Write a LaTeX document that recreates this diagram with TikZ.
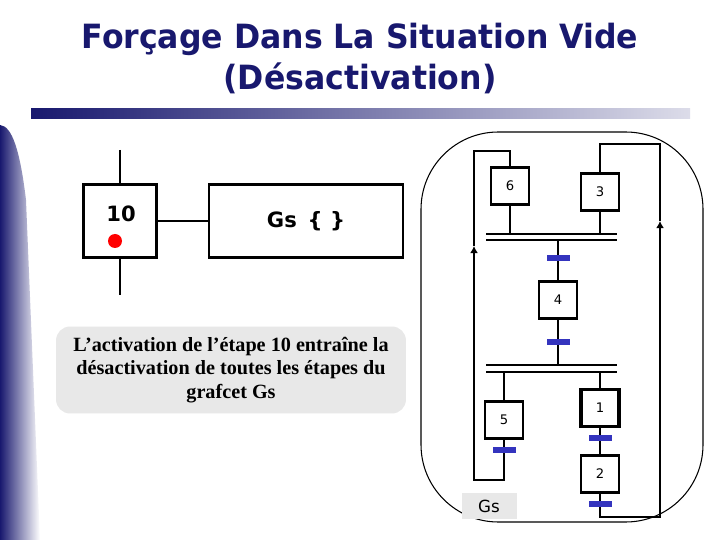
\documentclass[tikz,border=0pt]{standalone}
\usepackage{fontspec}
\setmainfont{Liberation Serif}
\setsansfont{DejaVu Sans}
\usetikzlibrary{arrows.meta}
\definecolor{marine}{RGB}{24,24,110}
\definecolor{bleutr}{RGB}{52,52,190}
\definecolor{grisfond}{RGB}{232,232,232}
\tikzset{
  >={Latex[length=4pt,width=4.5pt]},
  x={(0.02cm,0)}, y={(0,-0.02cm)},
}
\tikzstyle{ligne}=[line width=1.6pt]
\tikzstyle{etape}=[draw,line width=1.6pt,minimum width=0.76cm,minimum height=0.74cm,inner sep=0pt,font=\sffamily\fontsize{7.5}{8}\selectfont]
\tikzstyle{recept}=[fill=bleutr,minimum width=0.46cm,minimum height=0.12cm,inner sep=0pt]
\tikzstyle{grand}=[draw,line width=1.6pt,minimum height=1.46cm,inner sep=0pt,font=\sffamily\bfseries\fontsize{12}{14}\selectfont]
\begin{document}
\begin{tikzpicture}
  \useasboundingbox (0,0) rectangle (720,540);
  \fill[white] (0,0) rectangle (720,540);
  \node[text=marine,font=\sffamily\bfseries\fontsize{19}{23}\selectfont,inner sep=0pt] (titre) at (360,61)
    {\scalebox{0.945}[1]{\begin{tabular}{@{}c@{}}Forçage Dans La Situation Vide\\(Désactivation)\end{tabular}}};
  \shade[left color=marine,right color=marine!15] (31,109) rectangle (690,119);
  \shade[left color=marine,right color=white] (0,125) .. controls (12,126) and (20,150) .. (26,200)
    -- (40,540) -- (0,540) -- cycle;

  \node[grand,minimum width=1.46cm] (e10) at (120,221) {};
  \node[font=\sffamily\bfseries\fontsize{12}{14}\selectfont] (n10) at (121,214) {10};
  \fill[red] (115,241) circle (7);
  \node[grand,minimum width=3.88cm] (act) at (306,221) {Gs\, \{ \}};
  \coordinate (h10) at (120,150);
  \coordinate (b10) at (120,295);
  \draw[ligne] (h10) -- (e10.north);
  \draw[ligne] (e10.south) -- (b10);
  \draw[ligne] (e10.east) -- (act.west);

  \node[fill=grisfond,rounded corners=8pt,minimum width=7cm,minimum height=1.74cm,align=center,
    font=\bfseries\fontsize{11.5}{13.4}\selectfont] (com) at (231,370)
    {L’activation de l’étape 10 entraîne la\\désactivation de toutes les étapes du\\grafcet Gs};

  \draw[line width=0.6pt,rounded corners=44] (421,132) rectangle (703,522);

  \node[etape] (e6) at (510,186) {6};
  \node[etape] (e3) at (600,192) {3};
  \node[etape] (e4) at (558,300) {4};
  \node[etape] (e5) at (504,420) {5};
  \node[etape,line width=2.2pt] (e1) at (600,408) {1};
  \node[etape] (e2) at (600,474) {2};
  \node[recept] (t4) at (558,258) {};
  \node[recept] (t45) at (558,342) {};
  \node[recept] (t5) at (504,450) {};
  \node[recept] (t1) at (600,438) {};
  \node[recept] (t2) at (600,504) {};
  \node[fill=grisfond,minimum width=1.1cm,minimum height=0.54cm,font=\sffamily\fontsize{9.5}{11}\selectfont] (gs) at (489,506) {Gs};

  \draw[ligne] (486,234) -- (617,234);
  \draw[ligne] (486,240) -- (617,240);
  \draw[ligne] (486,365) -- (617,365);
  \draw[ligne] (486,372) -- (617,372);

  \draw[ligne] (e6.south) -- (e6|-0,234);
  \draw[ligne] (e3.south) -- (e3|-0,234);
  \draw[ligne] (558,240) -- (t4) -- (e4.north);
  \draw[ligne] (e4.south) -- (t45) -- (558,365);
  \draw[ligne] (504,372) -- (e5.north);
  \draw[ligne] (e5.south) -- (t5);
  \draw[ligne] (600,372) -- (e1.north);
  \draw[ligne] (e1.south) -- (t1) -- (e2.north);
  \draw[ligne] (e2.south) -- (t2);

  \coordinate (fl5) at (474,246);
  \coordinate (fl2) at (660,221);
  \draw[ligne,->] (t5) -- (504,480) -- (474,480) -- (fl5);
  \draw[ligne] (fl5) -- (474,151) -| (e6.north);
  \draw[ligne,->] (t2) -- (600,517) -- (660,517) -- (fl2);
  \draw[ligne] (fl2) -- (660,144) -| (e3.north);
\end{tikzpicture}
\end{document}
